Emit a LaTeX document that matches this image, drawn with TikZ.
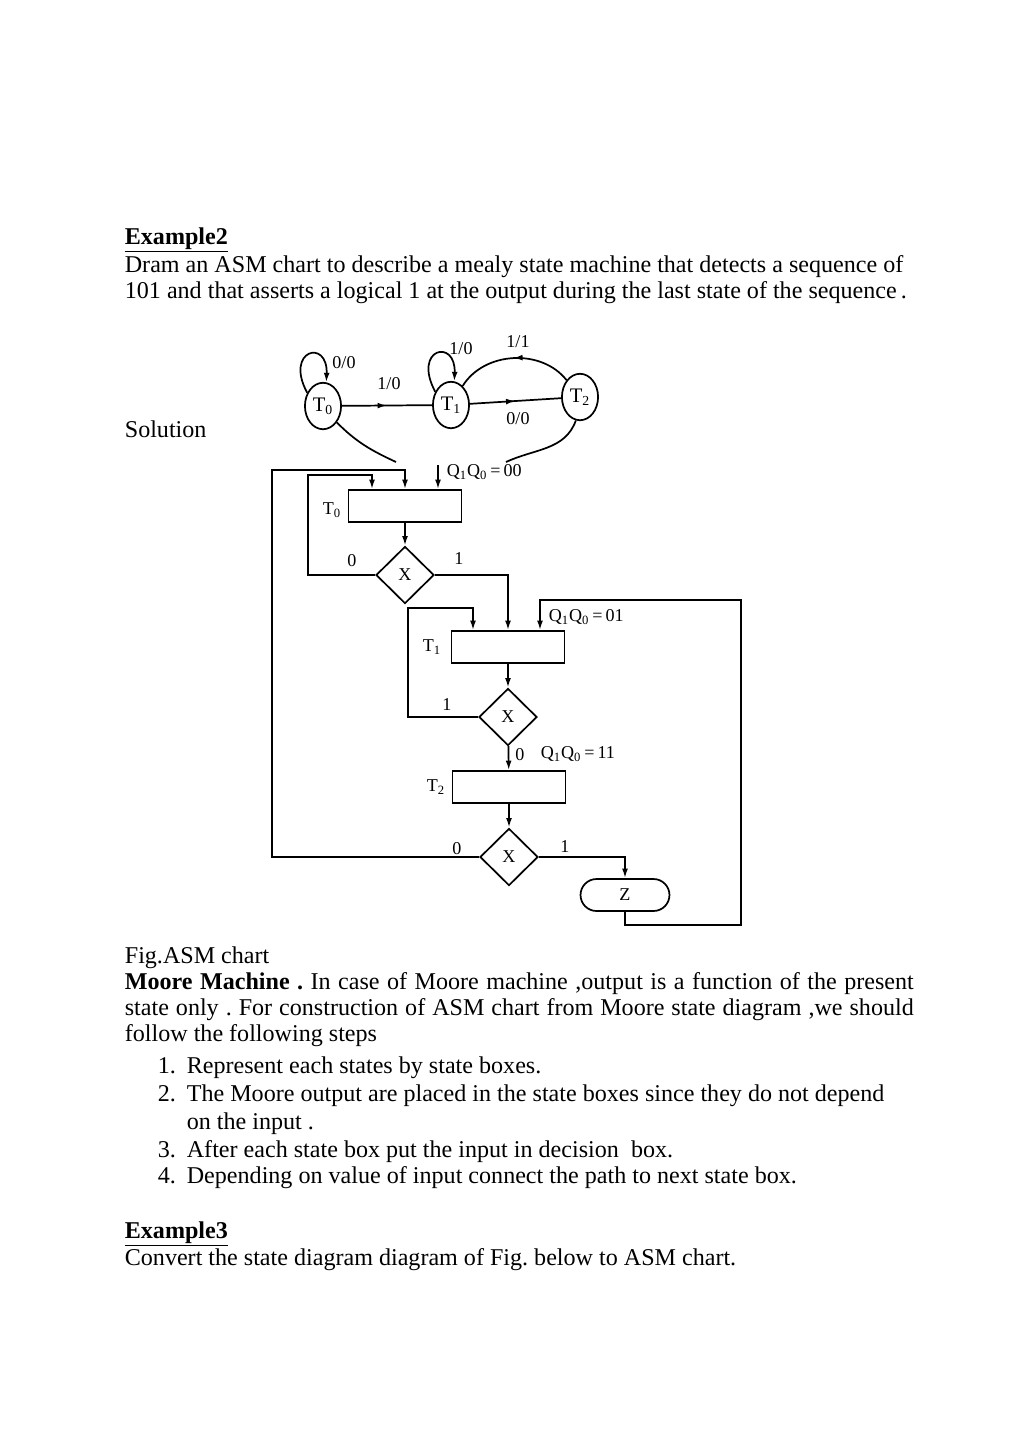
\documentclass[tikz,border=0pt]{standalone}
\usepackage{fontspec}
\setmainfont{Liberation Serif}
\usetikzlibrary{arrows.meta,shapes.geometric,decorations.markings}
\frenchspacing

\begin{document}
\begin{tikzpicture}[x=0.5813pt, y=0.5813pt, >={Latex[length=5.5pt,width=3.4pt]}, line width=1pt]
\tikzset{txt/.style={anchor=base west, inner sep=0pt, font=\fontsize{14}{17}\selectfont}}
\tikzset{lbl/.style={inner sep=0pt, font=\fontsize{10.5}{12}\selectfont}}
\tikzset{mstate/.style={draw, ellipse, minimum width=21pt, minimum height=27pt, inner sep=0pt, font=\fontsize{12}{14}\selectfont}}
\tikzset{statebox/.style={draw, rectangle, minimum width=65.7pt, minimum height=18.6pt, inner sep=0pt}}
\tikzset{decision/.style={draw, diamond, minimum width=33.7pt, minimum height=33.2pt, inner sep=0pt, font=\fontsize{10.5}{12}\selectfont}}
\tikzset{condbox/.style={draw, rectangle, rounded corners=9.3pt, minimum width=51.7pt, minimum height=18.6pt, inner sep=0pt, font=\fontsize{10.5}{12}\selectfont}}
\tikzset{midarrow/.style={postaction={decorate}, decoration={markings, mark=at position 0.5 with {\arrow{Latex[length=5.5pt,width=3.4pt]}}}}}

\fill[white] (0,0) rectangle (1024,-1449);
\useasboundingbox (0,0) rectangle (1024,-1449);

% page text
\node[txt] (ex2) at (124,-244) {\underline{\textbf{Example2}}};
\node[txt] (q1) at (124,-272) {Dram an ASM chart to describe a mealy state machine that detects a sequence of};
\node[txt] (q2) at (124,-298) {101 and that asserts a logical 1 at the output during the last state of the sequence\,.};
\node[txt] (sol) at (124,-437) {Solution};
\node[txt] (cap) at (124,-963) {Fig.ASM chart};
\node[txt] (m1) at (124,-989) {\makebox[458.6pt][s]{\textbf{Moore Machine .} In case of Moore machine ,output is a function of the present}};
\node[txt] (m2) at (124,-1015) {\makebox[458.6pt][s]{state only . For construction of ASM chart from Moore state diagram ,we should}};
\node[txt] (m3) at (124,-1041) {follow the following steps};
\node[txt] (n1) at (157,-1073) {1.};
\node[txt] (s1) at (186,-1073) {Represent each states by state boxes.};
\node[txt] (n2) at (157,-1101) {2.};
\node[txt] (s2) at (186,-1101) {The Moore output are placed in the state boxes since they do not depend};
\node[txt] (s2b) at (186,-1129) {on the input .};
\node[txt] (n3) at (157,-1157) {3.};
\node[txt] (s3) at (186,-1157) {After each state box put the input in decision\ \ box.};
\node[txt] (n4) at (157,-1183) {4.};
\node[txt] (s4) at (186,-1183) {Depending on value of input connect the path to next state box.};
\node[txt] (ex3) at (124,-1238) {\underline{\textbf{Example3}}};
\node[txt] (c1) at (124,-1265) {Convert the state diagram diagram of Fig. below to ASM chart.};

% mealy state diagram
\node[mstate] (T0) at (323,-406) {T\textsubscript{0}};
\node[mstate] (T1) at (451,-405) {T\textsubscript{1}};
\node[mstate] (T2) at (580,-397) {T\textsubscript{2}};
\draw[midarrow] (T0) -- (T1);
\draw[midarrow] (T1) -- (T2);
\draw[midarrow] (T2) to[bend right=55] (T1);
\draw[->] (T0.140) .. controls (284,-350) and (328,-338) .. (T0.82);
\draw[->] (T1.140) .. controls (412,-348) and (456,-338) .. (T1.82);
\coordinate (cut0) at (396,-462);
\coordinate (cut2) at (506,-462);
\draw (T0.-50) to[out=-45,in=155] (cut0);
\draw (T2.-100) to[out=-110,in=25] (cut2);
\node[lbl] at (344,-363) {0/0};
\node[lbl] at (461,-349) {1/0};
\node[lbl] at (389,-384) {1/0};
\node[lbl] at (518,-342) {1/1};
\node[lbl] at (518,-419) {0/0};

% asm chart
\node[statebox] (b0) at (405,-506) {};
\node[decision] (d0) at (405,-575) {X};
\node[statebox] (b1) at (508,-647) {};
\node[decision] (d1) at (508,-717) {X};
\node[statebox] (b2) at (509,-787) {};
\node[decision] (d2) at (509,-857) {X};
\node[condbox] (z) at (625,-895) {Z};

\node[lbl] at (332,-510) {T\textsubscript{0}};
\node[lbl] at (432,-647) {T\textsubscript{1}};
\node[lbl] at (436,-787) {T\textsubscript{2}};
\node[lbl] at (352,-561) {0};
\node[lbl] at (459,-559) {1};
\node[lbl] at (447,-705) {1};
\node[lbl] at (520,-755) {0};
\node[lbl] at (457,-849) {0};
\node[lbl] at (565,-847) {1};
\node[lbl, anchor=west] at (446,-472) {Q\textsubscript{1}Q\textsubscript{0}\,=\,00};
\node[lbl, anchor=west] at (548,-617) {Q\textsubscript{1}Q\textsubscript{0}\,=\,01};
\node[lbl, anchor=west] at (540,-754) {Q\textsubscript{1}Q\textsubscript{0}\,=\,11};

\coordinate (in0) at (438,-465);
\draw[->] (in0) -- (in0 |- b0.north);
\coordinate (l0) at (308,-475);
\coordinate (l0e) at (372,-475);
\draw[->] (d0.west) -| (l0) -- (l0e) -- (l0e |- b0.north);
\coordinate (o0) at (272,-470);
\draw[->] (d2.west) -| (o0) -| (b0.north);
\draw[->] (b0) -- (d0);
\draw[->] (d0.east) -| (b1.north);
\coordinate (l1) at (408,-608);
\coordinate (l1e) at (473,-608);
\draw[->] (d1.west) -| (l1) -- (l1e) -- (l1e |- b1.north);
\draw[->] (b1) -- (d1);
\draw[->] (d1) -- (b2);
\draw[->] (b2) -- (d2);
\draw[->] (d2.east) -| (z.north);
\coordinate (r0) at (741,-925);
\coordinate (r1) at (741,-600);
\coordinate (r2) at (540,-600);
\draw[->] (z.south) |- (r0) -- (r1) -- (r2) -- (r2 |- b1.north);
\end{tikzpicture}
\end{document}
